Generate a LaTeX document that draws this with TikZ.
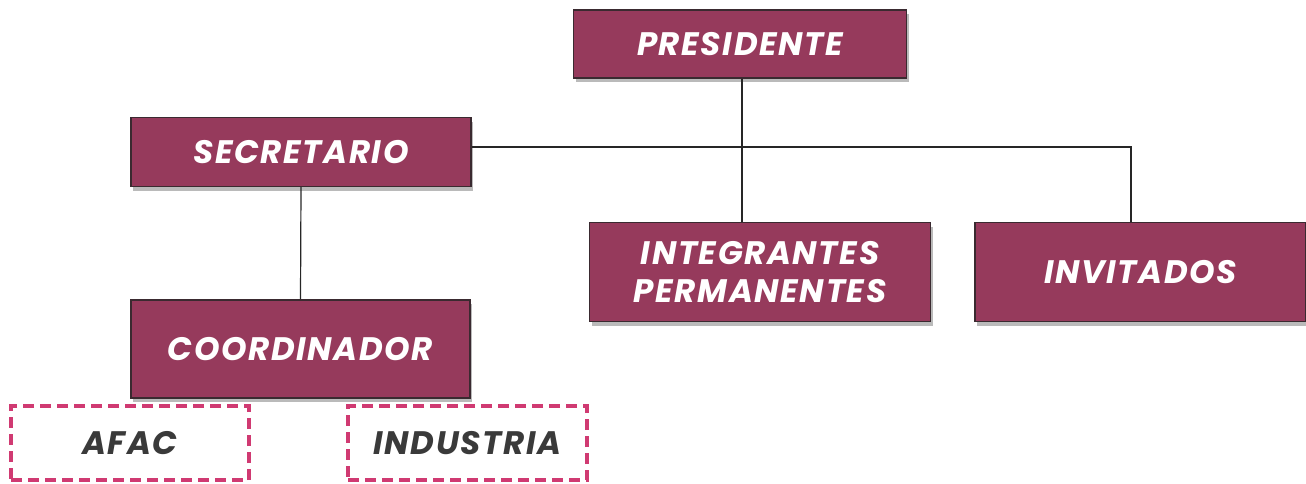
\documentclass[tikz,border=0pt]{standalone}
\usepackage{fontspec}
\setmainfont{Poppins}[LetterSpace=5]
\usetikzlibrary{shadows}
\definecolor{boxfill}{HTML}{963A5C}
\definecolor{boxedge}{HTML}{3A2A30}
\definecolor{dashpink}{HTML}{D03A72}
\definecolor{dashtext}{HTML}{3A3A3A}
\tikzset{
  orgbox/.style={draw=boxedge, line width=1.2pt, fill=boxfill, text=white,
    font=\fontsize{32.5}{38}\selectfont\bfseries\itshape, align=center, inner sep=0pt,
    drop shadow={shadow xshift=2pt, shadow yshift=-4pt, fill=black!45, opacity=0.6}},
  extbox/.style={draw=dashpink, line width=3.5pt, dash pattern=on 11pt off 6pt, text=dashtext,
    font=\fontsize{32.5}{38}\selectfont\bfseries\itshape, inner sep=0pt},
  link/.style={draw=black!85, line width=1.2pt}
}
\begin{document}
\begin{tikzpicture}[x=1pt,y=-1pt]
\useasboundingbox (0,0) rectangle (1306,483);
\node[orgbox, minimum width=333pt, minimum height=68pt] (pres) at (740,44) {PRESIDENTE};
\node[orgbox, minimum width=340pt, minimum height=69pt] (sec) at (301,152) {SECRETARIO};
\node[orgbox, minimum width=341pt, minimum height=99pt] (int) at (760,272) {INTEGRANTES\\PERMANENTES};
\node[orgbox, minimum width=331pt, minimum height=99pt] (inv) at (1140.5,272) {INVITADOS};
\node[orgbox, minimum width=339pt, minimum height=98pt] (coord) at (300.5,349) {COORDINADOR};
\node[extbox, minimum width=238pt, minimum height=74pt] (afac) at (130,443) {AFAC};
\node[extbox, minimum width=239pt, minimum height=74pt] (ind) at (467.5,443) {INDUSTRIA};
\coordinate (turn) at (1131,147);
\draw[link] (pres.south -| 742,0) -- (int.north -| 742,0);
\draw[link] (sec.east |- turn) -- (turn) -- (turn |- inv.north);
\draw[link] (sec.south) -- (coord.north);
\end{tikzpicture}
\end{document}
